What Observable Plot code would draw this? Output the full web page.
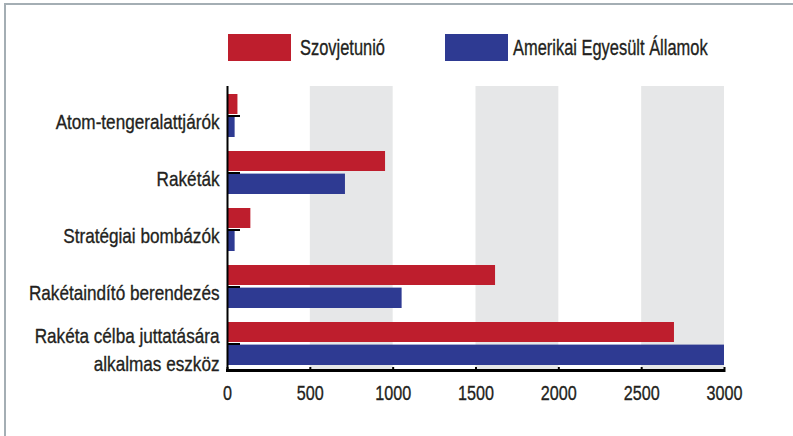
<!DOCTYPE html>
<html>
<head>
<meta charset="utf-8">
<script src="https://cdn.jsdelivr.net/npm/d3@7"></script>
<script src="https://cdn.jsdelivr.net/npm/@observablehq/plot@0.6"></script>
<style>
  body { margin: 0; background: #fff; }
  #wrap { position: relative; width: 793px; height: 436px; overflow: hidden; background: #fff;
          font-family: "Liberation Sans", Arial, sans-serif; color: #231f20; }
  #border { position: absolute; left: 4px; top: 3px; right: -10px; bottom: -10px;
            border-top: 2px solid #a4aeb4; border-left: 2px solid #a4aeb4; pointer-events: none; }
  #legend { position: relative; height: 76px; }
  .sw { position: absolute; top: 34px; width: 63px; height: 27px; }
  .lt { position: absolute; top: 34px; font-size: 22px; line-height: 27px; white-space: nowrap;
        transform-origin: 0 50%; -webkit-text-stroke: 0.35px #231f20; }
  svg { display: block; }
  svg text { stroke: #231f20; stroke-width: 0.35px; paint-order: fill; }
</style>
</head>
<body>
<div id="wrap">
  <div id="legend"></div>
  <div id="chart"></div>
  <div id="border"></div>
</div>
<script>
const categories = [
  "Atom-tengeralattjárók",
  "Rakéták",
  "Stratégiai bombázók",
  "Rakétaindító berendezés",
  "Rakéta célba juttatására\nalkalmas eszköz"
];
const seriesNames = ["Szovjetunió", "Amerikai Egyesült Államok"];
const sovietValues = [63, 954, 141, 1618, 2698];
const usaValues = [46, 712, 46, 1054, 3000];
const xTicks = [0, 500, 1000, 1500, 2000, 2500, 3000];
const shadedBands = [[500, 1000], [1500, 2000], [2500, 3000]];
const colors = ["#be1e2d", "#2e3a92"];

const sovietRows = categories.map((c, i) => ({category: c, series: seriesNames[0], value: sovietValues[i]}));
const usaRows = categories.map((c, i) => ({category: c, series: seriesNames[1], value: usaValues[i]}));

// Legend
const legend = document.getElementById("legend");
const legendPos = [[228, 300], [445, 513]];
const legendTexts = [];
seriesNames.forEach((name, i) => {
  const sw = document.createElement("div");
  sw.className = "sw";
  sw.style.left = legendPos[i][0] + "px";
  sw.style.background = colors[i];
  legend.appendChild(sw);
  const t = document.createElement("div");
  t.className = "lt";
  t.style.left = legendPos[i][1] + "px";
  t.textContent = name;
  legend.appendChild(t);
  legendTexts.push(t);
});

const H = 360, MT = 10, MB = 64;
const FONT = '"Liberation Sans", Arial, sans-serif';
const chart = Plot.plot({
  width: 793,
  height: H,
  marginTop: MT,
  marginBottom: MB,
  marginLeft: 227,
  marginRight: 69,
  style: {fontFamily: FONT, fontSize: "21px", color: "#231f20", background: "white"},
  x: {domain: [0, 3000], axis: null},
  y: {domain: categories, paddingInner: 0.239, paddingOuter: 0.115, align: 0.55, axis: null},
  color: {domain: seriesNames, range: colors},
  marks: [
    Plot.rect(shadedBands, {x1: d => d[0], x2: d => d[1], fill: "#e6e7e8"}),
    Plot.barX(sovietRows, {x: "value", y: "category", fill: "series", insetBottom: 23}),
    Plot.barX(usaRows, {x: "value", y: "category", fill: "series", insetTop: 22.6}),
    Plot.ruleX([0], {stroke: "#000", strokeWidth: 2}),
    Plot.rect([0], {x1: 0, x2: 3000, fill: "#000", insetTop: (H - MT - MB) - 3, insetLeft: -1, insetRight: -1}),
    Plot.axisX({ticks: xTicks, tickSize: -5, strokeWidth: 2, stroke: "#000", tickFormat: () => "", label: null}),
    Plot.axisX({ticks: xTicks, tickSize: 0, tickPadding: 13, fontSize: 21, fill: "#231f20", tickFormat: d => String(d), label: null, ariaLabel: "x-labels"}),
    Plot.axisY({tickSize: -13, strokeWidth: 2, stroke: "#000", tickFormat: () => "", label: null}),
    Plot.axisY({tickSize: 0, tickPadding: 8, dy: 4, fontSize: 21, lineHeight: 1.35, fill: "#231f20", tickFormat: d => d, label: null, ariaLabel: "y-labels"})
  ]
});
document.getElementById("chart").appendChild(chart);

// Condense text horizontally to match the narrow typeface of the original
const texts = Array.from(chart.querySelectorAll("text")).filter(t => t.textContent.trim() !== "");
const yRef = texts.find(t => t.textContent === categories[0]);
const xRef = texts.find(t => t.textContent === "3000");
const fy = yRef ? Math.min(1, 164 / yRef.getComputedTextLength()) : 0.8;
const fx = xRef ? Math.min(1, 36 / xRef.getComputedTextLength()) : 0.8;
texts.forEach(t => {
  const isX = /^\d+$/.test(t.textContent);
  const f = isX ? fx : fy;
  const tr = t.getAttribute("transform") || "";
  t.setAttribute("transform", tr + ` scale(${f},1)`);
});
const lw = legendTexts[0].getBoundingClientRect().width;
const fl = Math.min(1, 85 / lw);
legendTexts.forEach(t => { t.style.transform = `scaleX(${fl})`; });
</script>
</body>
</html>
